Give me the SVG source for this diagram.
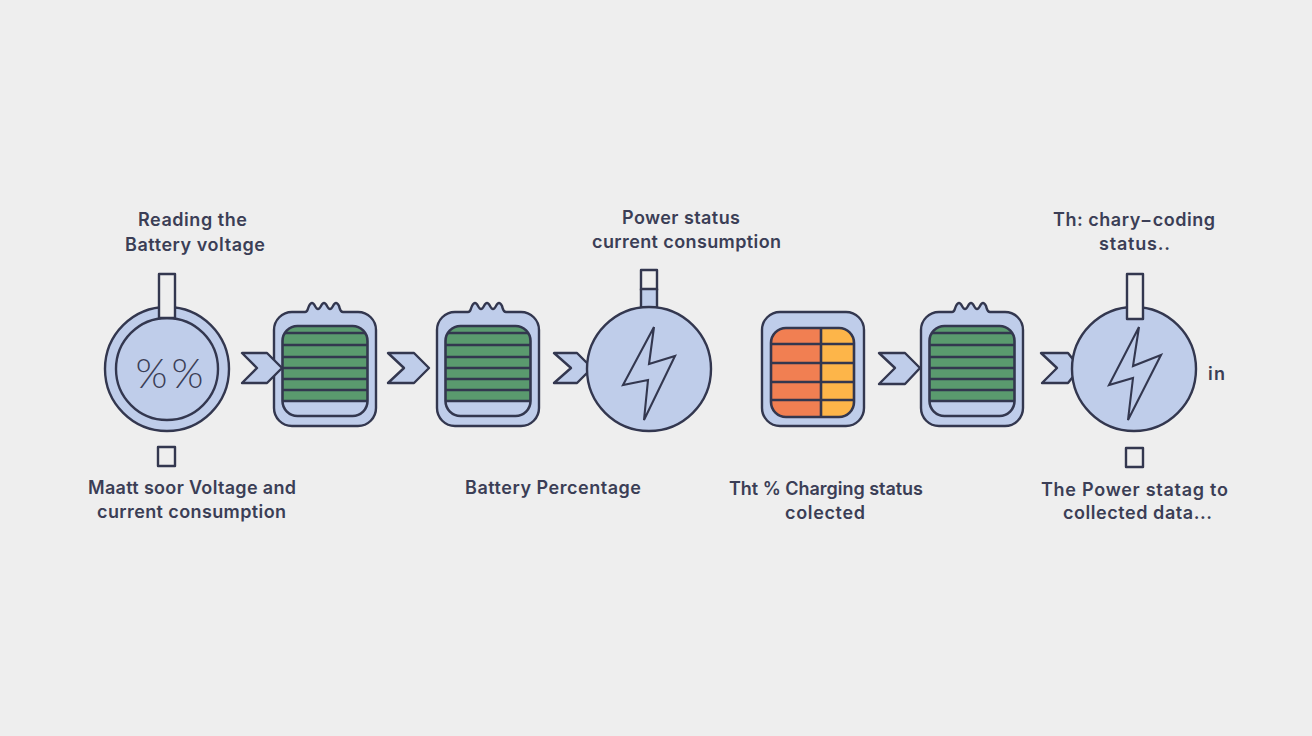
<svg xmlns="http://www.w3.org/2000/svg" width="1312" height="736" viewBox="0 0 1312 736">
<style>
.o{stroke:#33374f;stroke-width:2.4;stroke-linejoin:round}
.f{fill:#bfcdea}
.w{fill:#eeeeee}
.l{fill:none;stroke:#33374f;stroke-width:2.6}
.bolt{fill:#bfcdea;stroke:#33374f;stroke-width:2.1;stroke-linejoin:miter}
text{font-family:"Inter","Liberation Sans",sans-serif;font-weight:600;font-size:18px;fill:#3b3e56;text-anchor:middle}
.pct{font-family:"Lato","Liberation Sans",sans-serif;font-weight:300;font-size:41px;fill:#3b3e56}
</style>
<defs>
<clipPath id="clipInner"><rect x="8.5" y="14" width="85" height="90" rx="15"/></clipPath>
<clipPath id="clipOrange"><rect x="9" y="16" width="83" height="89" rx="15"/></clipPath>
<g id="battery">
<path class="o f" d="M18 0H31C34 0 33 -2 35 -6C37 -10 39 -10 41 -6C43 -2 45 -2 47 -6C49 -10 51 -10 53 -6C55 -2 57 -2 59 -6C61 -10 63 -10 65 -6C66 -3 66 0 69 0H84A18 18 0 0 1 102 18V96A18 18 0 0 1 84 114H18A18 18 0 0 1 0 96V18A18 18 0 0 1 18 0Z"/>
<g clip-path="url(#clipInner)">
<rect x="8" y="14" width="86" height="75" fill="#5a9a6e"/>
<path class="l" d="M8 21H94M8 33H94M8 45H94M8 56H94M8 67H94M8 78H94M8 89H94"/>
</g>
<rect class="l" x="8.5" y="14" width="85" height="90" rx="15"/>
</g>
</defs>
<rect width="1312" height="736" fill="#eeeeee"/>

<use id="node-battery-1" href="#battery" x="274" y="312"/>
<use id="node-battery-2" href="#battery" x="437" y="312"/>
<g id="node-charging" transform="translate(762,312)">
<rect class="o f" x="0" y="0" width="102" height="114" rx="18"/>
<g clip-path="url(#clipOrange)">
<rect x="9" y="16" width="50" height="89" fill="#f17f52"/>
<rect x="59" y="16" width="33" height="89" fill="#fdb549"/>
<path class="l" d="M9 32H92M9 51H92M9 70H92M9 88H92M59 16V105"/>
</g>
<rect class="l" x="9" y="16" width="83" height="89" rx="15"/>
</g>
<use id="node-battery-3" href="#battery" x="921" y="312"/>

<g id="connectors">
<path class="o f" d="M242 353H267L282 368L267 383H242L257 368Z"/>
<path class="o f" d="M388 353H414L429 368L414 383H388L404 368Z"/>
<path class="o f" d="M554 353H577L592 368L577 383H554L571 368Z"/>
<path class="o f" d="M879 353H905L920 368L905 384H879L895 368Z"/>
<path class="o f" d="M1041 353H1068L1080 368L1068 383H1042L1057 368Z"/>
</g>

<g id="node-voltage">
<circle class="o f" cx="167" cy="369" r="62"/>
<circle class="o f" cx="167" cy="369" r="51"/>
<rect class="o w" x="159" y="274" width="16" height="44"/>
<rect class="o w" x="158" y="447" width="17" height="19"/>
<text class="pct" x="151.500" y="388">%</text>
<text class="pct" x="187.500" y="388">%</text>
</g>
<g id="node-power">
<rect class="o w" x="641" y="270" width="16" height="20"/>
<rect class="o f" x="641" y="289" width="16" height="20"/>
<circle class="o f" cx="649" cy="369" r="62"/>
<path class="bolt" d="M654 327L649 364L675 356L644 420L648 380L623 385Z"/>
</g>
<g id="node-status">
<circle class="o f" cx="1134" cy="369" r="62"/>
<rect class="o w" x="1127" y="274" width="16" height="45"/>
<rect class="o w" x="1126" y="448" width="17" height="19"/>
<path class="bolt" d="M1139 327L1133 366L1161 355L1128 420L1133 378L1109 385Z"/>
</g>

<g id="labels">
<text x="192.500" y="226" textLength="109">Reading the</text>
<text x="195" y="251" textLength="140">Battery voltage</text>
<text x="681" y="224" textLength="118">Power status</text>
<text x="686.500" y="248" textLength="189">current consumption</text>
<text x="1134" y="226" textLength="162">Th: chary−coding</text>
<text x="1134.500" y="250" textLength="71">status..</text>
<text x="1216.500" y="380" textLength="17">in</text>
<text x="192" y="494" textLength="208">Maatt soor Voltage and</text>
<text x="191.500" y="518" textLength="189">current consumption</text>
<text x="553" y="494" textLength="176">Battery Percentage</text>
<text x="826" y="495" textLength="194">Tht % Charging status</text>
<text x="825" y="519" textLength="80">colected</text>
<text x="1134.500" y="496" textLength="187">The Power statag to</text>
<text x="1137.500" y="519" textLength="149">collected data...</text>
</g>
</svg>
